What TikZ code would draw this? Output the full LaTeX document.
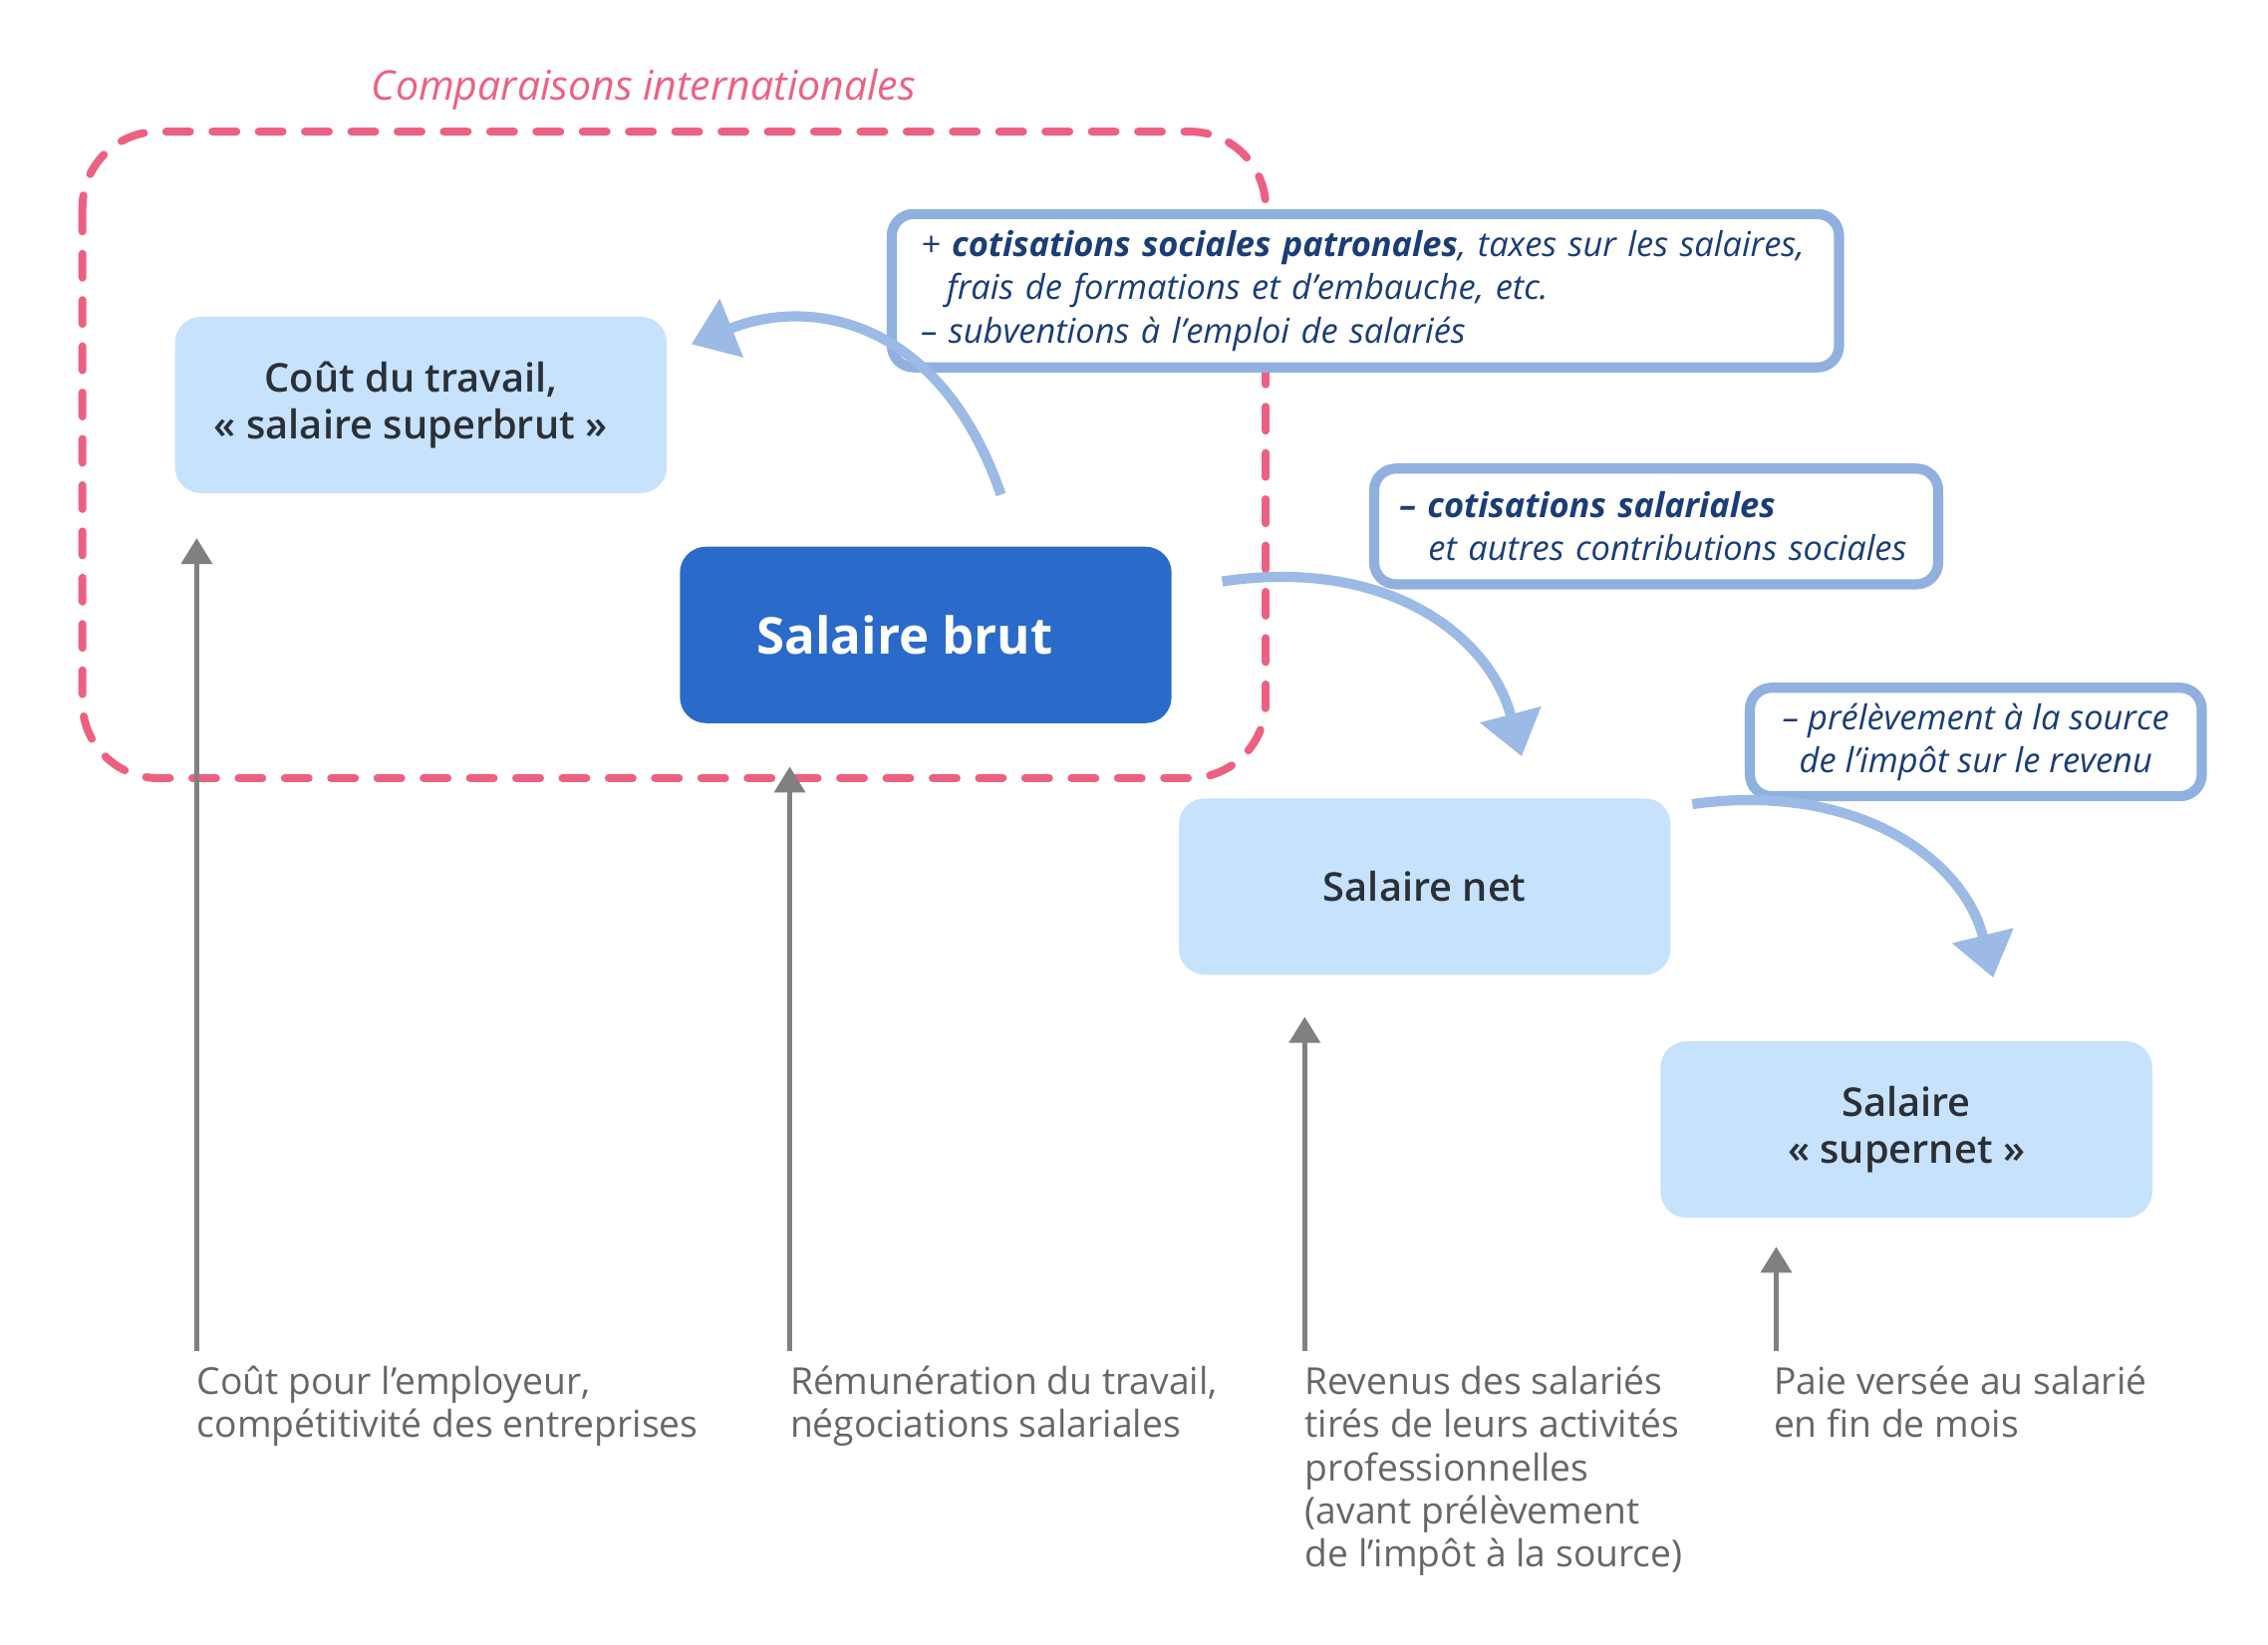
\documentclass[tikz,border=0pt]{standalone}
\usepackage{fontspec}
\setmainfont{Open Sans}
\newfontface\semibold{Open Sans Semibold}
\usepackage{tikz}
\usetikzlibrary{arrows.meta}

\definecolor{compink}{HTML}{EC6182}
\definecolor{paleblue}{HTML}{C6E2FD}
\definecolor{brutblue}{HTML}{2A6AC8}
\definecolor{noteblue}{HTML}{90B0E0}
\definecolor{flowblue}{HTML}{9BBAE6}
\definecolor{navy}{HTML}{1A3D78}
\definecolor{darktext}{HTML}{2B2F36}
\definecolor{greyline}{HTML}{808080}
\definecolor{greytext}{HTML}{666666}

\begin{document}
\begin{tikzpicture}[x=0.02cm, y=-0.02cm]
                \tikzstyle{salbox}=[fill=paleblue, rounded corners=0.36cm, minimum width=6.8cm, minimum height=2.44cm, align=center, text=darktext, font=\semibold\fontsize{15.6}{18.7}\selectfont]
                \tikzstyle{brutbox}=[salbox, fill=brutblue, text=white, font=\bfseries\fontsize{20}{24}\selectfont]
                \tikzstyle{note}=[draw=noteblue, fill=white, line width=0.14cm, rounded corners=0.3cm, text=navy, font=\itshape\fontsize{13.5}{17}\selectfont]
                \tikzstyle{flow} = [draw=flowblue, line width=0.14cm, -{Triangle[length=0.6cm, width=0.84cm]}]
                \tikzstyle{reading}=[anchor=north west, inner sep=0pt, align=left, text=greytext, font=\fontsize{14.6}{17}\selectfont]
                \tikzstyle{up} = [draw=greyline, line width=0.075cm, -{Triangle[length=0.36cm, width=0.42cm]}, shorten <=0.2cm]

                \useasboundingbox (0,0) rectangle (1568,1137);

                % zone des comparaisons internationales
                \draw[compink, line width=0.11cm, line cap=round, dash pattern=on 0.33cm off 0.31cm, rounded corners=1.05cm] (57,91) rectangle (875,538);
                \node[text=compink, font=\itshape\fontsize{16.1}{19}\selectfont] (zone) at (445,62) {Comparaisons internationales};

                \node[salbox] (cout) at (291,280) {\hspace*{-0.28cm}Coût du travail,\\\hspace*{-0.28cm}« salaire superbrut »};
                \node[brutbox] (brut) at (640,439) {\hspace*{-0.58cm}Salaire brut};
                \node[salbox] (net) at (985,613) {Salaire net};
                \node[salbox] (supernet) at (1318,781) {Salaire\\« supernet »};

                \node[note, minimum width=13.1cm, minimum height=2.12cm, inner xsep=0.36cm, text width=12.3cm, align=left] (patron) at (944,201)
                    {+ \textbf{cotisations sociales patronales}, taxes sur les salaires,\\\hspace*{0.36cm}frais de formations et d’embauche, etc.\\– subventions à l’emploi de salariés};
                \node[note, minimum width=7.8cm, minimum height=1.6cm, inner xsep=0.3cm, text width=7.1cm, align=left] (salar) at (1145,364)
                    {\textbf{– cotisations salariales}\\\hspace*{0.4cm}et autres contributions sociales};
                \node[note, minimum width=6.25cm, minimum height=1.5cm, align=center] (source) at (1366,513)
                    {– prélèvement à la source\\de l’impôt sur le revenu};

                % fleches de passage
                \coordinate (f1s) at (692,342);
                \coordinate (f1e) at (478,238);
                \coordinate (f2s) at (845,402);
                \coordinate (f2e) at (1052,523);
                \coordinate (f3s) at (1170,556);
                \coordinate (f3e) at (1378,676);
                \path[flow] (f1s) .. controls (650,220) and (560,205) .. (f1e);
                \path[flow] (f2s) .. controls (960,385) and (1030,440) .. (f2e);
                \path[flow] (f3s) .. controls (1285,540) and (1358,595) .. (f3e);

                % lectures
                \node[reading] (lcout) at (136,944) {Coût pour l’employeur,\\compétitivité des entreprises};
                \node[reading] (lbrut) at (546,944) {Rémunération du travail,\\négociations salariales};
                \node[reading] (lnet) at (902,944) {Revenus des salariés\\tirés de leurs activités\\professionnelles\\(avant prélèvement\\de l’impôt à la source)};
                \node[reading] (lsupernet) at (1226,944) {Paie versée au salarié\\en fin de mois};

                \coordinate (tcout) at (136,372);
                \coordinate (tbrut) at (546,530);
                \coordinate (tnet) at (902,703);
                \coordinate (tsupernet) at (1228,862);

                \foreach \source/ \dest in {lcout/tcout, lbrut/tbrut, lnet/tnet, lsupernet/tsupernet}
                \path[up] (\dest |- \source.north west) -- (\dest);
            \end{tikzpicture}
\end{document}
